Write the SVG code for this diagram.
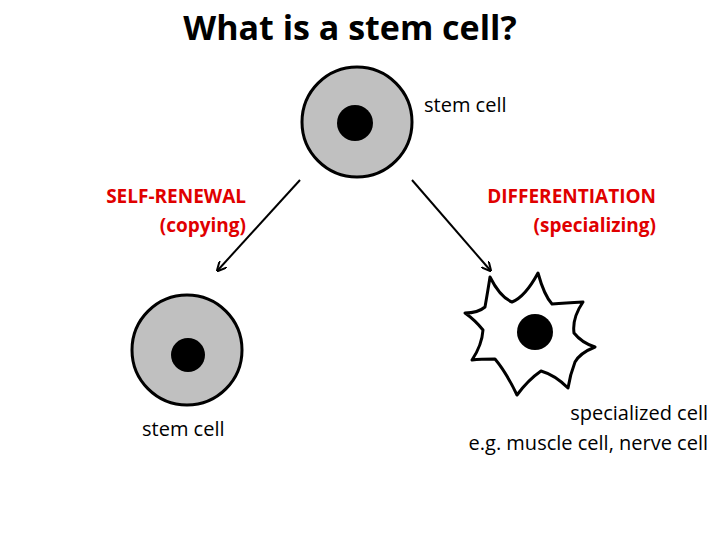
<svg xmlns="http://www.w3.org/2000/svg" width="720" height="540" viewBox="0 0 720 540">
<style>
.cell{fill:#c0c0c0;stroke:#000;stroke-width:3}
.t{font-family:"Open Sans","Liberation Sans",sans-serif;font-size:20px;fill:#000}
.r{font-family:"Open Sans","Liberation Sans",sans-serif;font-size:19px;fill:#e00000;font-weight:bold}
</style>
<defs><marker id="a" markerWidth="10" markerHeight="10" refX="8" refY="5" orient="auto" markerUnits="userSpaceOnUse"><path d="M0,0 L10,5 L0,10" fill="none" stroke="#000" stroke-width="2"/></marker></defs>
<rect width="720" height="540" fill="#fff"/>
<text x="350" y="40" text-anchor="middle" font-family="'Open Sans','Liberation Sans',sans-serif" font-size="34" font-weight="bold">What is a stem cell?</text>
<g id="top"><circle class="cell" cx="357" cy="122" r="55"/><circle cx="355" cy="123" r="18"/><text class="t" x="424" y="112">stem cell</text></g>
<g id="left"><circle class="cell" cx="187" cy="350" r="55"/><circle cx="188" cy="355" r="17"/><text class="t" x="142" y="436">stem cell</text></g>
<g id="right"><path d="M490,277 Q500,297 512,302 Q525,297 538,273 Q544,295 552,304 Q565,303 583,302 Q572,318 574,333 Q582,343 595,347 Q580,353 575,362 Q570,375 568,388 Q555,375 541,371 Q528,380 517,395 Q506,372 495,359 Q480,359 472,360 Q482,345 483,330 Q475,320 465,313 Q478,313 485,307 Q488,290 490,277 Z" fill="#fff" stroke="#000" stroke-width="3" stroke-linejoin="round"/><circle cx="535" cy="332" r="18"/>
<text class="t" text-anchor="end" x="708" y="420">specialized cell</text><text class="t" text-anchor="end" x="708" y="450">e.g. muscle cell, nerve cell</text></g>
<g id="labels"><text class="r" text-anchor="end" x="246" y="203">SELF-RENEWAL</text><text class="r" text-anchor="end" x="246" y="232">(copying)</text>
<text class="r" text-anchor="end" x="656" y="203">DIFFERENTIATION</text><text class="r" text-anchor="end" x="656" y="232">(specializing)</text></g>
<g id="connectors" stroke="#000" stroke-width="2"><line x1="300" y1="180" x2="218" y2="270" marker-end="url(#a)"/><line x1="412" y1="180" x2="490" y2="270" marker-end="url(#a)"/></g>
</svg>
